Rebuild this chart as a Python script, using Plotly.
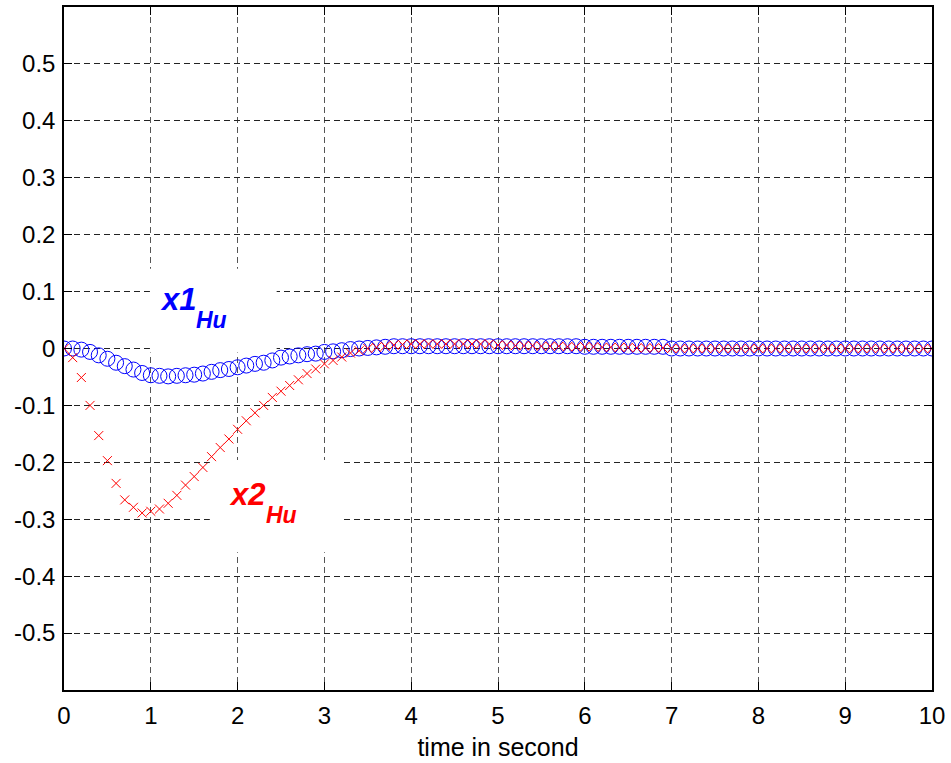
import plotly.graph_objects as go

# Sampling instants (s)
t = [round(0.1 * i, 1) for i in range(101)]

# State x1 of the Hu controller
x1_hu = [
    0.000, 0.000, -0.002, -0.006, -0.012, -0.018, -0.025, -0.031, -0.037, -0.043,
    -0.047, -0.048, -0.049, -0.048, -0.047, -0.046, -0.044, -0.041, -0.038, -0.036,
    -0.033, -0.030, -0.027, -0.025, -0.021, -0.016, -0.014, -0.012, -0.010, -0.009,
    -0.006, -0.005, -0.003, -0.001, 0.000, 0.001, 0.002, 0.003, 0.004, 0.004,
    0.004, 0.004, 0.004, 0.004, 0.004, 0.004, 0.004, 0.004, 0.004, 0.004,
    0.004, 0.004, 0.004, 0.004, 0.004, 0.004, 0.004, 0.004, 0.004, 0.004,
    0.003, 0.003, 0.003, 0.003, 0.003, 0.003, 0.003, 0.003, 0.003, 0.003,
    0.000, 0.000, 0.000, 0.000, 0.000, 0.000, 0.000, 0.000, 0.000, 0.000,
    0.000, 0.000, 0.000, 0.000, 0.000, 0.000, 0.000, 0.000, 0.000, 0.000,
    0.000, 0.000, 0.000, 0.000, 0.000, 0.000, 0.000, 0.000, 0.000, 0.000,
    0.000,
]

# State x2 of the Hu controller
x2_hu = [
    0.000, -0.016, -0.051, -0.100, -0.153, -0.197, -0.237, -0.266, -0.279, -0.289,
    -0.286, -0.282, -0.272, -0.258, -0.240, -0.225, -0.209, -0.190, -0.174, -0.159,
    -0.142, -0.127, -0.113, -0.100, -0.086, -0.075, -0.065, -0.055, -0.044, -0.036,
    -0.027, -0.021, -0.015, -0.008, -0.004, 0.000, 0.002, 0.004, 0.006, 0.007,
    0.008, 0.008, 0.008, 0.008, 0.008, 0.008, 0.008, 0.008, 0.008, 0.008,
    0.006, 0.006, 0.005, 0.005, 0.005, 0.004, 0.004, 0.004, 0.003, 0.003,
    0.003, 0.003, 0.002, 0.002, 0.002, 0.002, 0.001, 0.001, 0.001, 0.001,
    0.000, 0.000, 0.000, 0.000, 0.000, 0.000, 0.000, 0.000, 0.000, 0.000,
    0.000, 0.000, 0.000, 0.000, 0.000, 0.000, 0.000, 0.000, 0.000, 0.000,
    0.000, 0.000, 0.000, 0.000, 0.000, 0.000, 0.000, 0.000, 0.000, 0.000,
    0.000,
]

x_ticks = [0, 1, 2, 3, 4, 5, 6, 7, 8, 9, 10]
y_ticks = [-0.5, -0.4, -0.3, -0.2, -0.1, 0, 0.1, 0.2, 0.3, 0.4, 0.5]
y_tick_text = ["-0.5", "-0.4", "-0.3", "-0.2", "-0.1", "0", "0.1", "0.2", "0.3", "0.4", "0.5"]

FONT = "Arial, 'Liberation Sans', sans-serif"

fig = go.Figure()

fig.add_trace(go.Scatter(
    x=t, y=x1_hu, mode="markers", name="x1",
    marker=dict(symbol="circle-open", size=15, color="#0000ff", line=dict(width=1, color="#0000ff")),
))
fig.add_trace(go.Scatter(
    x=t, y=x2_hu, mode="markers", name="x2",
    marker=dict(symbol="x-thin-open", size=9, color="#ff0000", line=dict(width=1, color="#ff0000")),
))

# White label backgrounds that hide the grid behind the text
fig.add_shape(type="rect", x0=0.99, x1=2.45, y0=-0.007, y1=0.14,
              xref="x", yref="y", fillcolor="white", line=dict(width=0), layer="between")
fig.add_shape(type="rect", x0=1.68, x1=3.18, y0=-0.358, y1=-0.196,
              xref="x", yref="y", fillcolor="white", line=dict(width=0), layer="between")

def label(x, y, main, sub, color):
    fig.add_annotation(x=x, y=y, xref="x", yref="y", text=f"<b><i>{main}</i></b>",
                       showarrow=False, xanchor="left", yanchor="bottom",
                       font=dict(family=FONT, size=31, color=color))
    fig.add_annotation(x=x + 0.42, y=y - 0.028, xref="x", yref="y", text=f"<b><i>{sub}</i></b>",
                       showarrow=False, xanchor="left", yanchor="bottom",
                       font=dict(family=FONT, size=23, color=color))

label(1.08, 0.052, "x1", "Hu", "#0000ff")
label(1.88, -0.29, "x2", "Hu", "#ff0000")

axis_common = dict(
    showline=True, linecolor="black", linewidth=1.5, mirror="ticks",
    ticks="inside", ticklen=8, tickwidth=1, tickcolor="black",
    showgrid=True, gridwidth=1, griddash="6px,4px",
    zeroline=False, automargin=False,
    tickfont=dict(family=FONT, size=24, color="black"),
)

fig.update_xaxes(range=[0, 10], tickvals=x_ticks, gridcolor="#555555", ticklabelstandoff=3,
                 title=dict(text="time in second", font=dict(family=FONT, size=25, color="black"), standoff=11),
                 **axis_common)
fig.update_yaxes(range=[-0.6, 0.6], tickvals=y_ticks, ticktext=y_tick_text, gridcolor="#222222",
                 ticklabelstandoff=2, **axis_common)

fig.update_layout(
    width=951, height=763,
    margin=dict(l=64, r=19, t=7, b=73),
    plot_bgcolor="white", paper_bgcolor="white",
    showlegend=False,
)

fig.write_html("out.html")
